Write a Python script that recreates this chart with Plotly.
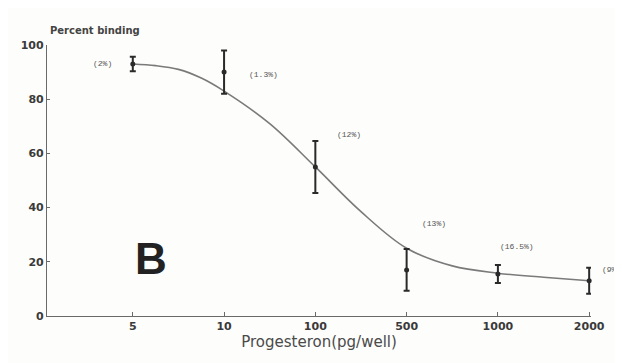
import plotly.graph_objects as go

# ---- data ----
categories = ["5", "10", "100", "500", "1000", "2000"]
mean_binding = [93, 90, 55, 17, 15.5, 13]
sd_binding = [2.7, 8, 9.6, 7.7, 3.3, 4.8]
cv_labels = ["(2%)", "(1.3%)", "(12%)", "(13%)", "(16.5%)", "(9%)"]

# fitted curve (category index units)
curve_pos = [0, 0.25, 0.5, 0.75, 1, 1.5, 2, 2.5, 3, 3.5, 4, 4.5, 5]
curve_val = [93, 92.4, 91, 87.8, 83, 71, 55, 38.5, 25, 18.5, 15.8, 14.3, 13]

# label anchor positions (category index units, percent)
label_pos = [-0.33, 1.43, 2.37, 3.3, 4.21, 5.24]
label_val = [93, 89, 66.8, 34.3, 25.8, 17]

x_idx = list(range(len(categories)))

W, H = 622, 363
L, R, T, B = 39, 39, 37, 55
X0, X1 = -0.94, 5.02
pw, ph = W - L - R, H - T - B

fig = go.Figure()

fig.add_trace(go.Scatter(
    x=curve_pos, y=curve_val, mode="lines",
    line=dict(color="#7a7a7a", width=1.6, shape="spline", smoothing=1.0),
    hoverinfo="skip", showlegend=False, cliponaxis=False,
))

fig.add_trace(go.Scatter(
    x=x_idx, y=mean_binding, mode="markers",
    marker=dict(color="#2a2a2a", size=5),
    error_y=dict(type="data", array=sd_binding, visible=True,
                 color="#2a2a2a", thickness=2, width=3),
    showlegend=False, cliponaxis=False,
))

annotations = []
for txt, xp, yp in zip(cv_labels, label_pos, label_val):
    annotations.append(dict(
        text=txt, x=(xp - X0) / (X1 - X0), y=yp / 100.0,
        xref="paper", yref="paper", showarrow=False,
        xanchor="center", yanchor="middle",
        font=dict(family="Liberation Mono", size=8, color="#555555")))

annotations.append(dict(
    text="<b>Percent binding</b>", x=(40 - L) / pw, y=1 - (22 - T) / ph,
    xref="paper", yref="paper", showarrow=False, xanchor="left", yanchor="middle",
    font=dict(size=10, color="#444444")))
annotations.append(dict(
    text="<b>B</b>", x=(143 - L) / pw, y=1 - (250 - T) / ph,
    xref="paper", yref="paper", showarrow=False, xanchor="center", yanchor="middle",
    font=dict(family="Liberation Sans", size=44, color="#222222")))

fig.update_layout(
    width=W, height=H,
    margin=dict(l=L, r=R, t=T, b=B),
    paper_bgcolor="#fdfdfb", plot_bgcolor="#fdfdfb",
    font=dict(family="DejaVu Sans", color="#3a3a3a"),
    xaxis=dict(
        range=[X0, X1], tickvals=x_idx, ticktext=categories,
        showgrid=False, zeroline=False, showline=True,
        linecolor="#6a6a6a", linewidth=1.2,
        ticks="inside", ticklen=4, tickcolor="#6a6a6a",
        tickfont=dict(size=11, color="#3a3a3a", weight="bold"),
        title=dict(text="Progesteron(pg/well)", font=dict(size=15, color="#4a4a4a"),
                   standoff=4),
    ),
    yaxis=dict(
        range=[0, 100], tickvals=[0, 20, 40, 60, 80, 100],
        showgrid=False, zeroline=False, showline=True,
        linecolor="#6a6a6a", linewidth=1.2,
        ticks="inside", ticklen=3, tickcolor="#6a6a6a",
        tickfont=dict(size=11, color="#3a3a3a", weight="bold"),
    ),
    annotations=annotations,
)

fig.write_html("out.html")
